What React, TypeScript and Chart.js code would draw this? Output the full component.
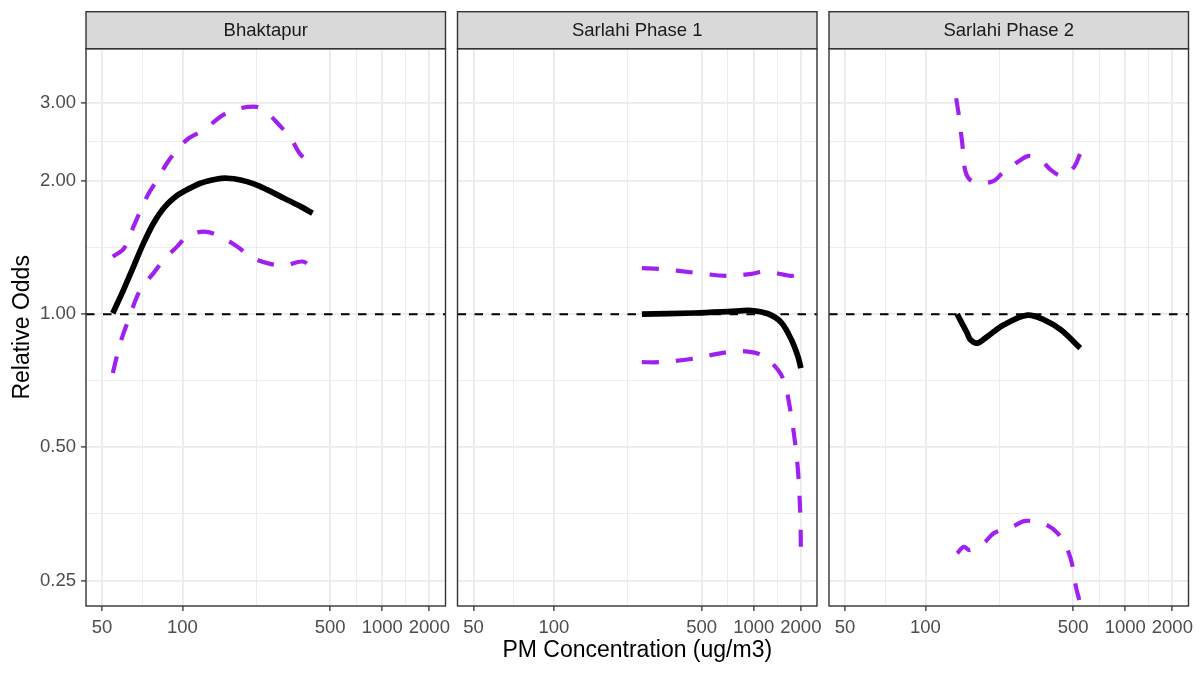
import React, { useEffect, useRef } from 'react';
import { Chart, registerables, LinearScale } from 'chart.js';

Chart.register(...registerables);

// ---------------- data ----------------
const FACETS = ['Bhaktapur', 'Sarlahi Phase 1', 'Sarlahi Phase 2'];

const BK_FIT_X = [54.5, 59.5, 64.7, 70.5, 76.9, 84.1, 92.1, 101.1, 118.7, 139.9, 155.0, 178, 205.2, 237.7, 287.1, 349.3, 401.9];
const BK_FIT_Y = [1.005, 1.135, 1.281, 1.447, 1.605, 1.735, 1.828, 1.892, 1.976, 2.021, 2.028, 2.010, 1.969, 1.909, 1.828, 1.750, 1.691];
const BK_UP_X = [54.5, 59.8, 64.7, 72.6, 79.3, 86.7, 95.1, 106.1, 122.5, 144.7, 165.9, 205.2, 228.8, 276.4, 310.4, 349.3, 401.9];
const BK_UP_Y = [1.349, 1.409, 1.577, 1.843, 2.010, 2.193, 2.350, 2.497, 2.607, 2.794, 2.893, 2.943, 2.893, 2.653, 2.497, 2.290, 2.193];
const BK_LO_X = [54.5, 56.3, 58.7, 62.0, 68.5, 76.9, 84.1, 95.1, 104.5, 122.5, 144.7, 171.9, 198.0, 237.7, 287.1, 356.4, 401.9];
const BK_LO_Y = [0.736, 0.802, 0.883, 0.971, 1.135, 1.238, 1.326, 1.421, 1.497, 1.537, 1.497, 1.421, 1.349, 1.304, 1.288, 1.315, 1.270];

const S1_FIT_X = [245.9, 456.6, 702.6, 965.6, 1225, 1489, 1731, 1918, 2000];
const S1_FIT_Y = [1.000, 1.006, 1.013, 1.019, 1.002, 0.957, 0.875, 0.800, 0.755];
const S1_UP_X = [245.9, 299.5, 456.6, 702.6, 965.6, 1167, 1564, 1731, 1900, 2000];
const S1_UP_Y = [1.270, 1.266, 1.241, 1.220, 1.233, 1.248, 1.227, 1.220, 1.232, 1.255];
const S1_LO_X = [245.9, 299.5, 438, 702.6, 922, 1140, 1418, 1564, 1687, 1820, 1918, 1985, 2000];
const S1_LO_Y = [0.779, 0.779, 0.792, 0.821, 0.823, 0.805, 0.748, 0.699, 0.618, 0.520, 0.438, 0.349, 0.296];

const S2_FIT_X = [135.8, 150.2, 155.4, 166.7, 185.1, 221.4, 288.3, 350.4, 429, 547];
const S2_FIT_Y = [1.000, 0.906, 0.875, 0.860, 0.890, 0.946, 0.995, 0.971, 0.922, 0.838];
const S2_UP_X = [134.5, 138.0, 142.9, 147.7, 159.2, 195.2, 221.4, 267.0, 293.6, 337, 379.6, 438, 507, 547];
const S2_UP_Y = [3.075, 2.819, 2.433, 2.099, 1.993, 1.993, 2.099, 2.231, 2.278, 2.231, 2.118, 2.053, 2.154, 2.310];
const S2_LO_X = [135.8, 145.2, 154.3, 178.6, 198.6, 243.2, 282.6, 350.4, 412, 466.5, 496.9, 518, 547, 565];
const S2_LO_Y = [0.288, 0.298, 0.293, 0.304, 0.320, 0.331, 0.341, 0.336, 0.320, 0.293, 0.269, 0.242, 0.221, 0.200];

const X_TICKS = [50, 100, 500, 1000, 2000];
const Y_TICKS = [0.25, 0.5, 1, 2, 3];
const X_MIN = 44.1;
const X_MAX = 2576;
const Y_MIN = 0.219;
const Y_MAX = 3.98;
const REF_ODDS = 1;

const X_TITLE = 'PM Concentration (ug/m3)';
const Y_TITLE = 'Relative Odds';

// ---------------- layout / style ----------------
const W = 1200;
const H = 675;
const PANEL_LEFT = [86, 457.5, 829];
const PANEL_WIDTH = 359.5;
const PLOT_TOP = 48.7;
const STRIP_TOP = 11.7;
const X_AXIS_H = 69;
const FONT = "'Liberation Sans', Arial, Helvetica, sans-serif";
const PURPLE = '#A020F0';

const ll = (v: number) => Math.log(Math.log(v));
const ill = (t: number) => Math.exp(Math.exp(t));

// Custom scale: x transformed by log(log(x))
class LogLogScale extends LinearScale {
  static id = 'loglog';
  static defaults = {};
  determineDataLimits() {
    // @ts-ignore
    this.min = this.options.min;
    // @ts-ignore
    this.max = this.options.max;
  }
  buildTicks() {
    const ticks: any[] = [];
    X_TICKS.forEach((v, i) => {
      ticks.push({ value: v });
      if (i < X_TICKS.length - 1) {
        ticks.push({ value: ill((ll(v) + ll(X_TICKS[i + 1])) / 2), minor: true });
      }
    });
    return ticks;
  }
  getPixelForValue(value: number) {
    const a = ll(this.min as number);
    const b = ll(this.max as number);
    return this.getPixelForDecimal((ll(value) - a) / (b - a));
  }
  getValueForPixel(pixel: number) {
    const a = ll(this.min as number);
    const b = ll(this.max as number);
    return ill(a + this.getDecimalForPixel(pixel) * (b - a));
  }
}
Chart.register(LogLogScale as any);

const zip = (xs: number[], ys: number[]) => xs.map((x, i) => ({ x, y: ys[i] }));

const PANELS = [
  { fit: zip(BK_FIT_X, BK_FIT_Y), up: zip(BK_UP_X, BK_UP_Y), lo: zip(BK_LO_X, BK_LO_Y) },
  { fit: zip(S1_FIT_X, S1_FIT_Y), up: zip(S1_UP_X, S1_UP_Y), lo: zip(S1_LO_X, S1_LO_Y) },
  { fit: zip(S2_FIT_X, S2_FIT_Y), up: zip(S2_UP_X, S2_UP_Y), lo: zip(S2_LO_X, S2_LO_Y) },
];

const isMinor = (ctx: any) => !!(ctx.tick && ctx.tick.minor);

function makeConfig(i: number): any {
  const first = i === 0;
  const p = PANELS[i];
  const yWidth = first ? PANEL_LEFT[0] : 0;
  const facetPlugin = {
    id: 'facet' + i,
    afterDraw(chart: any) {
      const { ctx, chartArea } = chart;
      ctx.save();
      ctx.strokeStyle = '#333333';
      ctx.lineWidth = 1.4;
      ctx.strokeRect(chartArea.left, chartArea.top, chartArea.right - chartArea.left, chartArea.bottom - chartArea.top);
      ctx.fillStyle = '#D9D9D9';
      ctx.fillRect(chartArea.left, STRIP_TOP, chartArea.right - chartArea.left, chartArea.top - STRIP_TOP);
      ctx.strokeRect(chartArea.left, STRIP_TOP, chartArea.right - chartArea.left, chartArea.top - STRIP_TOP);
      ctx.fillStyle = '#1A1A1A';
      ctx.font = `18.5px ${FONT}`;
      ctx.textAlign = 'center';
      ctx.textBaseline = 'middle';
      ctx.fillText(FACETS[i], (chartArea.left + chartArea.right) / 2, (STRIP_TOP + chartArea.top) / 2 + 0.5);
      ctx.restore();
    },
  };
  const line = {
    pointRadius: 0,
    borderJoinStyle: 'round',
    borderCapStyle: 'butt',
    tension: 0.35,
    clip: 0,
    fill: false,
  };
  return {
    type: 'line',
    data: {
      datasets: [
        { ...line, data: p.fit, borderColor: '#000000', borderWidth: 5.7 },
        { ...line, data: p.up, borderColor: PURPLE, borderWidth: 4.2, borderDash: [17, 17] },
        { ...line, data: p.lo, borderColor: PURPLE, borderWidth: 4.2, borderDash: [17, 17] },
        {
          ...line,
          data: [{ x: X_MIN, y: REF_ODDS }, { x: X_MAX, y: REF_ODDS }],
          borderColor: '#000000',
          borderWidth: 2,
          borderDash: [8.5, 8.5],
          tension: 0,
        },
      ],
    },
    options: {
      responsive: false,
      maintainAspectRatio: false,
      animation: false,
      devicePixelRatio: 1,
      events: [],
      layout: {
        padding: {
          left: PANEL_LEFT[i] - yWidth,
          right: W - (PANEL_LEFT[i] + PANEL_WIDTH),
          top: PLOT_TOP,
          bottom: 0,
        },
      },
      plugins: { legend: { display: false }, tooltip: { enabled: false }, title: { display: false } },
      scales: {
        x: {
          type: 'loglog',
          min: X_MIN,
          max: X_MAX,
          afterFit: (s: any) => { s.height = X_AXIS_H; },
          border: { display: false },
          grid: {
            color: '#EBEBEB',
            lineWidth: (c: any) => (isMinor(c) ? 0.9 : 1.8),
            tickColor: (c: any) => (isMinor(c) ? 'rgba(0,0,0,0)' : '#333333'),
            tickWidth: 1.3,
            tickLength: 5,
          },
          ticks: {
            autoSkip: false,
            maxRotation: 0,
            minRotation: 0,
            padding: 5.5,
            color: '#4D4D4D',
            font: { family: FONT, size: 18.5 },
            callback: (v: any, idx: number, ticks: any[]) => (ticks[idx].minor ? '' : String(v)),
          },
          title: {
            display: i === 1,
            text: X_TITLE,
            color: '#000000',
            font: { family: FONT, size: 23, lineHeight: 1 },
            padding: { top: 0, bottom: 13 },
          },
        },
        y: {
          type: 'logarithmic',
          min: Y_MIN,
          max: Y_MAX,
          bounds: 'data',
          afterBuildTicks: (s: any) => {
            const t: any[] = [];
            Y_TICKS.forEach((v, k) => {
              t.push({ value: v });
              if (k < Y_TICKS.length - 1) t.push({ value: Math.sqrt(v * Y_TICKS[k + 1]), minor: true });
            });
            s.ticks = t;
          },
          afterFit: (s: any) => { s.width = yWidth; },
          border: { display: false },
          grid: {
            color: '#EBEBEB',
            lineWidth: (c: any) => (isMinor(c) ? 0.9 : 1.8),
            tickColor: (c: any) => (isMinor(c) || !first ? 'rgba(0,0,0,0)' : '#333333'),
            tickWidth: 1.3,
            tickLength: first ? 5 : 0,
          },
          ticks: {
            display: first,
            autoSkip: false,
            padding: 5,
            color: '#4D4D4D',
            font: { family: FONT, size: 18.5 },
            callback: (v: any, idx: number, ticks: any[]) => (ticks[idx].minor ? '' : Number(v).toFixed(2)),
          },
          title: {
            display: first,
            text: Y_TITLE,
            color: '#000000',
            font: { family: FONT, size: 23, lineHeight: 1 },
            padding: { top: 11, bottom: 0 },
          },
        },
      },
    },
    plugins: [facetPlugin],
  };
}

export default function App() {
  const refs = useRef<(HTMLCanvasElement | null)[]>([]);
  useEffect(() => {
    const charts = [0, 1, 2].map((i) => new Chart(refs.current[i] as HTMLCanvasElement, makeConfig(i)));
    return () => charts.forEach((c) => c.destroy());
  }, []);
  return (
    <div style={{ position: 'absolute', left: 0, top: 0, width: W, height: H, background: '#ffffff' }}>
      {[0, 1, 2].map((i) => (
        <canvas
          key={i}
          ref={(el) => { refs.current[i] = el; }}
          width={W}
          height={H}
          style={{ position: 'absolute', left: 0, top: 0, width: W, height: H }}
        />
      ))}
    </div>
  );
}
